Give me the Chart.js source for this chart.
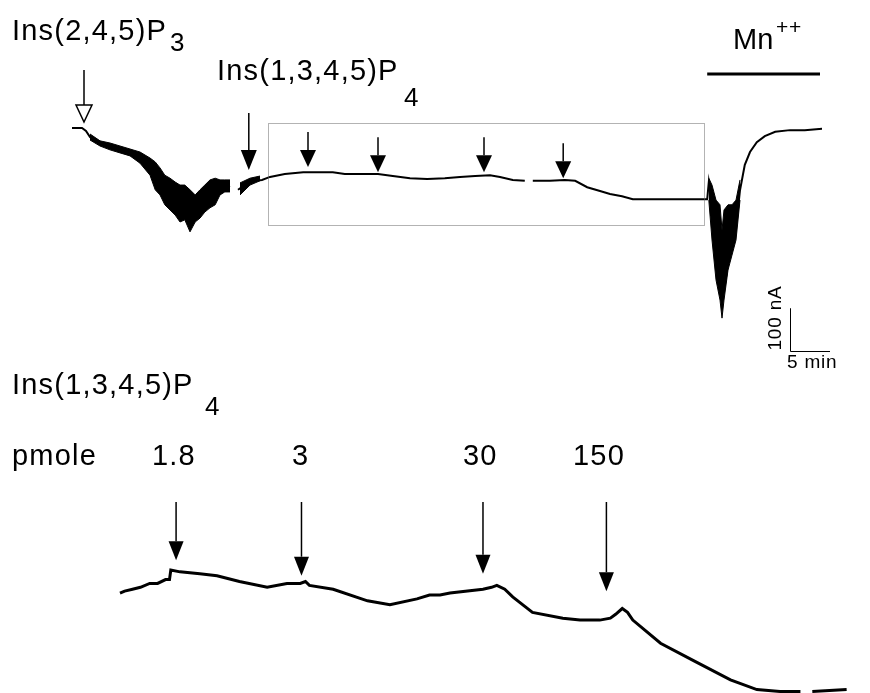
<!DOCTYPE html>
<html>
<head>
<meta charset="utf-8">
<script src="https://cdn.jsdelivr.net/npm/chart.js@4.4.0/dist/chart.umd.min.js"></script>
<style>
  html, body { margin: 0; padding: 0; background: #fff; overflow: hidden; }
  #page { position: relative; width: 870px; height: 693px; font-family: "Liberation Sans", Arial, sans-serif; color: #000; }
  canvas { position: absolute; left: 0; }
  #topTrace { top: 0; }
  #zoomTrace { top: 480px; }
  .lbl { position: absolute; font-size: 29px; letter-spacing: 1.2px; line-height: 1; white-space: nowrap; }
  .sub { position: absolute; font-size: 26px; line-height: 1; }
  .small { position: absolute; font-size: 19px; letter-spacing: 0.8px; line-height: 1; white-space: nowrap; }
</style>
</head>
<body>
<div id="page">
  <canvas id="topTrace" width="870" height="400"></canvas>
  <canvas id="zoomTrace" width="870" height="220"></canvas>

  <span class="lbl" style="left:12px; top:16px;">Ins(2,4,5)P</span><span class="sub" style="left:170px; top:29px;">3</span>
  <span class="lbl" style="left:217px; top:56px;">Ins(1,3,4,5)P</span><span class="sub" style="left:404px; top:84px;">4</span>
  <span class="lbl" style="left:733px; top:25px; letter-spacing:0;">Mn</span><span class="small" style="left:776px; top:16px; font-size:21px;">++</span>
  <span class="small" style="left:774px; top:318px; transform: translate(-50%,-50%) rotate(-90deg);">100 nA</span>
  <span class="small" style="left:787px; top:352px;">5 min</span>

  <span class="lbl" style="left:12px; top:370px;">Ins(1,3,4,5)P</span><span class="sub" style="left:205px; top:393px;">4</span>
  <span class="lbl" style="left:12px; top:441px;">pmole</span>
  <span class="lbl" style="left:152px; top:441px;">1.8</span>
  <span class="lbl" style="left:292px; top:441px;">3</span>
  <span class="lbl" style="left:463px; top:441px;">30</span>
  <span class="lbl" style="left:573px; top:441px;">150</span>
</div>

<script>
// whole recording: time in min, current in nA (0 = start level)
const traceTime = [0, 1.25, 1.75, 2.25, 2.9, 3.5, 4.75, 6, 7.25, 8.5, 9.75, 11, 12.25, 13.5, 14.75, 16, 17.25, 18.5, 19.75, 20.2,
  20.75, 21.6, 22.9, 23.75, 24.75, 26.6, 28.9, 31, 32.6, 34.1, 36, 38.25, 40.1, 42.25, 44.4, 46.6, 48.5, 50.4, 52.25, 53.5,
  55.1, 56.6, 57.3, 57.6, 59.75, 61.6, 62.9, 64.4, 66, 67.25, 68.75, 70.1, 73.5, 78.9, 79.4, 79.6, 79.9, 80.25, 80.75, 81.25,
  81.6, 82.25, 82.9, 83.5, 84.1, 84.75, 85.6, 86.6, 87.9, 89.75, 91.6, 93.75];
const traceCurrent = [0, 0, -7, -21, -30, -35, -42, -49, -56, -65, -84, -116, -149, -168, -177, -172, -158, -144, -135, null,
  -144, -133, -123, -121, -114, -107, -103, -103, -103, -107, -107, -107, -112, -117, -119, -117, -114, -112, -110, -114,
  -121, -123, null, -123, -123, -121, -123, -138, -147, -154, -159, -166, -166, -166, -166, -126, -168, -238, -296, -401,
  -366, -284, -249, -145, -86, -56, -33, -19, -9, -5, -5, -2];

// envelope of the noisy parts (InsP3 response and Mn++ response)
const noiseTime = [2.25, 3.5, 4.75, 6, 7.25, 8.5, 9.75, 10.4, 11, 11.6, 12.25, 12.9, 13.5, 14.1, 14.75, 15.4, 16, 16.6, 17.25, 17.9,
  18.5, 19.1, 19.75, 20.2, 21, 22.25, 23.5, 50, 79.6, 80, 80.5, 81, 81.25, 81.5, 82, 82.5, 83, 83.5];
const noiseHigh = [-14, -30, -35, -42, -49, -56, -70, -79, -93, -110, -117, -126, -133, -133, -144, -156, -144, -133, -121, -117,
  -121, -121, -121, null, -128, -117, -112, null, -117, -133, -168, -179, -238, -191, -179, -179, -168, -121];
const noiseLow = [-28, -42, -51, -58, -65, -82, -110, -144, -156, -179, -191, -203, -219, -214, -242, -219, -210, -196, -186, -179,
  -156, -149, -149, null, -156, -133, -123, null, -168, -261, -354, -401, -443, -401, -331, -296, -261, -168];

// expanded part of the recording (dotted box)
const zoomTime = [24.75, 25.1, 25.7, 26.3, 27.0, 27.6, 28.2, 28.5, 28.6, 29.3, 30.8, 32.1, 33.8, 35.9, 37.4, 38.4, 38.8, 39.1, 40.9, 43.5,
  45.2, 47.25, 48.2, 49, 49.75, 52.25, 52.9, 53.3, 53.9, 54.5, 56.0, 58.3, 59.6, 61.1, 61.9, 62.3, 62.8, 63.2, 63.6, 65.7,
  68.2, 71.0, 73.0, 74.75, 76.3, 76.8, 77.2, 79.8];
const zoomCurrent = [-115, -114, -113, -112, -110, -110, -108, -108, -103, -104, -105, -106, -109, -112, -110, -110, -109, -111, -113, -119,
  -121, -118, -116, -116, -115, -113, -112, -111, -113, -117, -125, -128, -129, -129, -128, -126, -123, -125, -129, -141,
  -150, -160, -165, -166, -166, null, -166, -165];

// applications: time (min) and current level at the arrow tip (nA)
const ip3Time = [1.5];
const ip3Tip = [14];
const ip4Time = [22.1];
const ip4Tip = [-98];
const doseTime = [29.5, 38.25, 51.5, 61.4];
const doseTip = [-91, -103, -103, -117];
const doseTimeZoom = [29.0, 38.5, 52.25, 61.6];
const doseTipZoom = [-98, -106, -105, -114];
const pmoles = ["1.8", "3", "30", "150"];

const zoomWindowTime = [24.5, 79];
const zoomWindowCurrent = [12, -226];
const mnTime = [79.4, 93.5];
const mnLevel = 126;
const scaleBarOrigin = [89.75, -520];
const scaleBarSize = [5, 100]; // 5 min, 100 nA

function points(xs, ys) {
  return xs.map((x, i) => ({ x: x, y: ys[i] }));
}

function arrow(ctx, x, yTip, length, headLen, headWidth, open) {
  ctx.save();
  ctx.strokeStyle = "#000";
  ctx.lineWidth = 1.5;
  ctx.beginPath();
  ctx.moveTo(x, yTip - length);
  ctx.lineTo(x, yTip - headLen);
  ctx.stroke();
  ctx.beginPath();
  ctx.moveTo(x - headWidth / 2, yTip - headLen);
  ctx.lineTo(x + headWidth / 2, yTip - headLen);
  ctx.lineTo(x, yTip);
  ctx.closePath();
  if (open) {
    ctx.fillStyle = "#fff";
    ctx.fill();
    ctx.stroke();
  } else {
    ctx.fillStyle = "#000";
    ctx.fill();
  }
  ctx.restore();
}

const topMarks = {
  id: "topMarks",
  afterDatasetsDraw(chart) {
    const ctx = chart.ctx;
    const sx = chart.scales.x, sy = chart.scales.y;

    // dotted box round the expanded window
    ctx.save();
    ctx.strokeStyle = "#666";
    ctx.lineWidth = 1;
    ctx.setLineDash([1, 1]);
    const bx0 = sx.getPixelForValue(zoomWindowTime[0]), bx1 = sx.getPixelForValue(zoomWindowTime[1]);
    const by0 = sy.getPixelForValue(zoomWindowCurrent[0]), by1 = sy.getPixelForValue(zoomWindowCurrent[1]);
    ctx.strokeRect(Math.round(bx0) + 0.5, Math.round(by0) + 0.5, Math.round(bx1 - bx0), Math.round(by1 - by0));
    ctx.restore();

    arrow(ctx, sx.getPixelForValue(ip3Time[0]), sy.getPixelForValue(ip3Tip[0]), 52, 17, 16, true);
    arrow(ctx, sx.getPixelForValue(ip4Time[0]), sy.getPixelForValue(ip4Tip[0]), 57, 20, 16, false);
    doseTime.forEach((t, i) => {
      arrow(ctx, sx.getPixelForValue(t), sy.getPixelForValue(doseTip[i]), 35, 17, 16, false);
    });

    // Mn++ bar
    ctx.save();
    ctx.strokeStyle = "#000";
    ctx.lineWidth = 3;
    ctx.beginPath();
    ctx.moveTo(sx.getPixelForValue(mnTime[0]), sy.getPixelForValue(mnLevel));
    ctx.lineTo(sx.getPixelForValue(mnTime[1]), sy.getPixelForValue(mnLevel));
    ctx.stroke();

    // scale bar
    const ox = Math.round(sx.getPixelForValue(scaleBarOrigin[0])) + 0.5;
    const oy = Math.round(sy.getPixelForValue(scaleBarOrigin[1])) + 0.5;
    ctx.lineWidth = 1;
    ctx.beginPath();
    ctx.moveTo(ox, sy.getPixelForValue(scaleBarOrigin[1] + scaleBarSize[1]));
    ctx.lineTo(ox, oy);
    ctx.lineTo(sx.getPixelForValue(scaleBarOrigin[0] + scaleBarSize[0]), oy);
    ctx.stroke();
    ctx.restore();
  }
};

const zoomMarks = {
  id: "zoomMarks",
  afterDatasetsDraw(chart) {
    const sx = chart.scales.x, sy = chart.scales.y;
    doseTimeZoom.forEach((t, i) => {
      const tip = sy.getPixelForValue(doseTipZoom[i]);
      arrow(chart.ctx, sx.getPixelForValue(t), tip, tip - 22, 19, 15, false);
    });
  }
};

const baseOptions = (xMin, xMax, yMin, yMax) => ({
  responsive: false,
  animation: false,
  devicePixelRatio: 1,
  layout: { padding: 0 },
  plugins: { legend: { display: false }, tooltip: { enabled: false } },
  elements: { point: { radius: 0 }, line: { tension: 0 } },
  scales: {
    x: { type: "linear", min: xMin, max: xMax, display: false },
    y: { type: "linear", min: yMin, max: yMax, display: false }
  }
});

new Chart(document.getElementById("topTrace"), {
  type: "line",
  data: {
    datasets: [
      { data: points(noiseTime, noiseHigh), borderColor: "#000", borderWidth: 1, fill: false },
      { data: points(noiseTime, noiseLow), borderColor: "#000", borderWidth: 1, backgroundColor: "#000", fill: "-1" },
      { data: points(traceTime, traceCurrent), borderColor: "#000", borderWidth: 2, fill: false }
    ]
  },
  options: baseOptions(-9, 99.75, -633.8, 298.2),
  plugins: [topMarks]
});

new Chart(document.getElementById("zoomTrace"), {
  type: "line",
  data: {
    datasets: [
      { data: points(zoomTime, zoomCurrent), borderColor: "#000", borderWidth: 3, fill: false }
    ]
  },
  options: baseOptions(15.66, 81.57, -170.4, -56.4),
  plugins: [zoomMarks]
});
</script>
</body>
</html>
